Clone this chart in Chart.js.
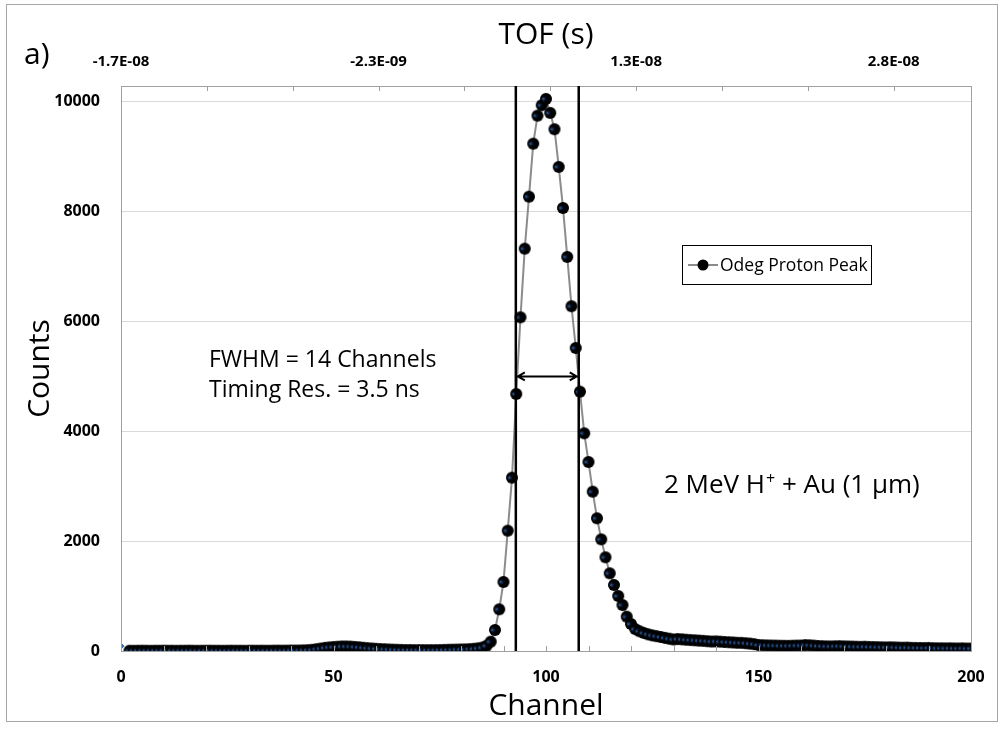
<!DOCTYPE html>
<html>
<head>
<meta charset="utf-8">
<script src="https://cdn.jsdelivr.net/npm/chart.js@4.4.0/dist/chart.umd.min.js"></script>
<style>
  html, body { margin: 0; padding: 0; background: #fff; }
  canvas { display: block; }
</style>
</head>
<body>
<canvas id="chart-1" width="1005" height="730"></canvas>
<script>
// proton peak spectrum, counts per channel starting at channel 2
const firstChannel = 2;
const counts = [
  5, 4, 5, 6, 5, 4, 5, 5, 6, 5,
  5, 4, 5, 5, 6, 5, 4, 5, 5, 6,
  5, 5, 4, 5, 6, 5, 5, 4, 5, 6,
  5, 6, 5, 5, 6, 7, 6, 7, 8, 8,
  10, 12, 15, 22, 32, 45, 58, 66, 72, 78,
  82, 82, 80, 75, 68, 60, 52, 46, 40, 36,
  32, 28, 25, 22, 20, 18, 18, 17, 16, 16,
  15, 16, 17, 18, 20, 22, 24, 26, 28, 30,
  34, 40, 48, 62, 95, 170, 383, 760, 1257, 2192,
  3157, 4681, 6078, 7328, 8275, 9240, 9750, 9940, 10055, 9800,
  9503, 8816, 8069, 7177, 6279, 5519, 4723, 3965, 3443, 2902,
  2417, 2034, 1707, 1415, 1202, 1002, 838, 625, 492, 400,
  360, 330, 305, 285, 270, 255, 240, 225, 210, 218,
  212, 205, 200, 195, 190, 185, 178, 172, 175, 170,
  165, 160, 155, 150, 148, 142, 135, 125, 110, 105,
  102, 100, 98, 96, 95, 94, 96, 98, 100, 108,
  104, 98, 92, 88, 85, 84, 86, 88, 85, 82,
  80, 78, 76, 78, 74, 72, 70, 68, 66, 68,
  65, 62, 60, 62, 58, 56, 55, 54, 56, 52,
  50, 50, 48, 50, 47, 46, 48, 45, 45
];
const seriesName = 'Odeg Proton Peak';

// stray point sitting on the axis at channel 0
const originPoints = [{ x: 0, y: 90 }];

// time of flight axis
const tofStart = -1.745e-8;      // s at channel 0
const tofPerChannel = 0.25e-9;   // s per channel
const tofTickStep = 5.05e-9;
const tofLabels = ['-1.7E-08', '-2.3E-09', '1.3E-08', '2.8E-08'];

const countTicks = [0, 2000, 4000, 6000, 8000, 10000];
const countMax = 10290;
const channelLabels = [0, 50, 100, 150, 200];

// FWHM markers
const fwhmEdges = [92.9, 107.7];
const halfMax = 5000;

const axisGray = '#a0a0a0';
const textFont = 'Open Sans';
const tickFont = { family: 'Open Sans', weight: 'bold', size: 16 };

function sphere(r) {
  const c = document.createElement('canvas');
  c.width = c.height = r * 2 + 2;
  const g = c.getContext('2d');
  const m = r + 1;
  const grad = g.createRadialGradient(m - r * 0.5, m, 0, m - r * 0.2, m, r);
  grad.addColorStop(0, '#3a6cae');
  grad.addColorStop(0.22, '#12284a');
  grad.addColorStop(0.45, '#020306');
  grad.addColorStop(1, '#000');
  g.fillStyle = grad;
  g.beginPath();
  g.arc(m, m, r, 0, Math.PI * 2);
  g.fill();
  return c;
}

const points = counts.map((c, i) => ({ x: firstChannel + i, y: c }));

const decorations = {
  id: 'decorations',
  beforeDraw(chart) {
    const ctx = chart.ctx;
    ctx.save();
    ctx.fillStyle = '#fff';
    ctx.fillRect(0, 0, chart.width, chart.height);
    ctx.strokeStyle = '#a6a6a6';
    ctx.lineWidth = 1;
    ctx.strokeRect(6.5, 4.5, 991, 717);
    ctx.restore();
  },
  afterDraw(chart) {
    const ctx = chart.ctx;
    const { x, x2, y } = chart.scales;
    const a = chart.chartArea;
    ctx.save();

    // plot frame and inside tick marks
    ctx.strokeStyle = axisGray;
    ctx.lineWidth = 1;
    ctx.strokeRect(a.left + 0.5, a.top + 0.5, a.right - a.left, a.bottom - a.top);
    ctx.beginPath();
    for (let v = 0; v <= 200; v += 10) {
      const px = Math.round(x.getPixelForValue(v)) + 0.5;
      ctx.moveTo(px, a.bottom);
      ctx.lineTo(px, a.bottom - 5);
    }
    x2.ticks.forEach(t => {
      const px = Math.round(x2.getPixelForValue(t.value)) + 0.5;
      ctx.moveTo(px, a.top);
      ctx.lineTo(px, a.top + 5);
    });
    ctx.stroke();

    // FWHM edges and arrow
    ctx.strokeStyle = '#000';
    ctx.lineWidth = 2.5;
    ctx.beginPath();
    fwhmEdges.forEach(v => {
      const px = x.getPixelForValue(v);
      ctx.moveTo(px, a.top);
      ctx.lineTo(px, a.bottom);
    });
    ctx.stroke();

    const ay = y.getPixelForValue(halfMax);
    const x1 = x.getPixelForValue(fwhmEdges[0]) + 2;
    const xr = x.getPixelForValue(fwhmEdges[1]) - 2;
    ctx.lineWidth = 2;
    ctx.beginPath();
    ctx.moveTo(x1, ay);
    ctx.lineTo(xr, ay);
    ctx.moveTo(x1 + 7, ay - 4);
    ctx.lineTo(x1, ay);
    ctx.lineTo(x1 + 7, ay + 4);
    ctx.moveTo(xr - 7, ay - 4);
    ctx.lineTo(xr, ay);
    ctx.lineTo(xr - 7, ay + 4);
    ctx.stroke();

    // text notes
    ctx.fillStyle = '#000';
    ctx.textBaseline = 'alphabetic';
    ctx.textAlign = 'left';
    ctx.font = `30px "${textFont}"`;
    ctx.fillText('a)', 24, 64);

    ctx.font = `23px "${textFont}"`;
    ctx.fillText('FWHM = 14 Channels', 209, 367);
    ctx.fillText('Timing Res. = 3.5 ns', 209, 397);

    ctx.font = `26px "${textFont}"`;
    let tx = 664;
    const ty = 493;
    const s1 = '2 MeV H';
    ctx.fillText(s1, tx, ty);
    tx += ctx.measureText(s1).width;
    ctx.font = `16px "${textFont}"`;
    ctx.fillText('+', tx + 1, ty - 9);
    tx += ctx.measureText('+').width + 1;
    ctx.font = `26px "${textFont}"`;
    ctx.fillText(' + Au (1 \u03bcm)', tx, ty);

    // legend
    ctx.strokeStyle = '#000';
    ctx.lineWidth = 1;
    ctx.strokeRect(682.5, 245.5, 189, 39);
    ctx.strokeStyle = '#8c8c8c';
    ctx.lineWidth = 2;
    ctx.beginPath();
    ctx.moveTo(688, 265);
    ctx.lineTo(718, 265);
    ctx.stroke();
    ctx.fillStyle = '#000';
    ctx.beginPath();
    ctx.arc(703, 265, 5.5, 0, Math.PI * 2);
    ctx.fill();
    ctx.font = `17.5px "${textFont}"`;
    ctx.textBaseline = 'middle';
    ctx.fillText(seriesName, 720, 266);

    ctx.restore();
  }
};

const ctx = document.getElementById('chart-1').getContext('2d');
new Chart(ctx, {
  type: 'scatter',
  data: {
    datasets: [{
      label: seriesName,
      data: points,
      showLine: true,
      borderColor: '#8c8c8c',
      borderWidth: 2,
      pointStyle: sphere(6),
      pointRadius: 6
    }, {
      label: 'origin',
      data: originPoints,
      pointStyle: 'rectRot',
      pointRadius: 3,
      backgroundColor: '#3a6fb0',
      borderColor: '#3a6fb0'
    }]
  },
  options: {
    responsive: false,
    devicePixelRatio: 1,
    animation: false,
    layout: { padding: { left: 0, right: 34, top: 0, bottom: 0 } },
    plugins: {
      legend: { display: false },
      tooltip: { enabled: false }
    },
    scales: {
      x: {
        type: 'linear',
        position: 'bottom',
        min: 0,
        max: 200,
        afterBuildTicks: s => { s.ticks = channelLabels.map(v => ({ value: v })); },
        afterFit: s => { s.height = 79; },
        grid: { display: false, drawTicks: false },
        border: { display: true, color: axisGray },
        ticks: { color: '#000', font: tickFont, padding: 17, maxRotation: 0, callback: v => String(v) },
        title: {
          display: true, text: 'Channel', color: '#000',
          font: { family: textFont, size: 30 }, padding: { top: 0, bottom: 6 }
        }
      },
      x2: {
        type: 'linear',
        position: 'top',
        min: tofStart,
        max: tofStart + 200 * tofPerChannel,
        afterBuildTicks: s => {
          const ticks = [];
          for (let k = 0; tofStart + k * tofTickStep <= s.max; k++) {
            ticks.push({ value: tofStart + k * tofTickStep });
          }
          s.ticks = ticks;
        },
        afterFit: s => { s.height = 86; },
        grid: { display: false, drawTicks: false },
        border: { display: true, color: axisGray },
        ticks: {
          color: '#000',
          font: { family: 'Open Sans', weight: 'bold', size: 15 },
          padding: 15,
          maxRotation: 0,
          autoSkip: false,
          callback: (v, i) => (i % 3 === 0 ? tofLabels[i / 3] : '')
        },
        title: {
          display: true, text: 'TOF (s)', color: '#000',
          font: { family: textFont, size: 30 }, padding: { top: 17, bottom: 0 }
        }
      },
      y: {
        type: 'linear',
        min: 0,
        max: countMax,
        afterBuildTicks: s => { s.ticks = countTicks.map(v => ({ value: v })); },
        afterFit: s => { s.width = 121; },
        grid: { color: '#d9d9d9', drawTicks: false },
        border: { display: true, color: axisGray },
        ticks: { color: '#000', font: tickFont, padding: 21, callback: v => String(v) },
        title: {
          display: true, text: 'Counts', color: '#000',
          font: { family: textFont, size: 30 }, padding: { top: 22, bottom: 0 }
        }
      }
    }
  },
  plugins: [decorations]
});
</script>
</body>
</html>
